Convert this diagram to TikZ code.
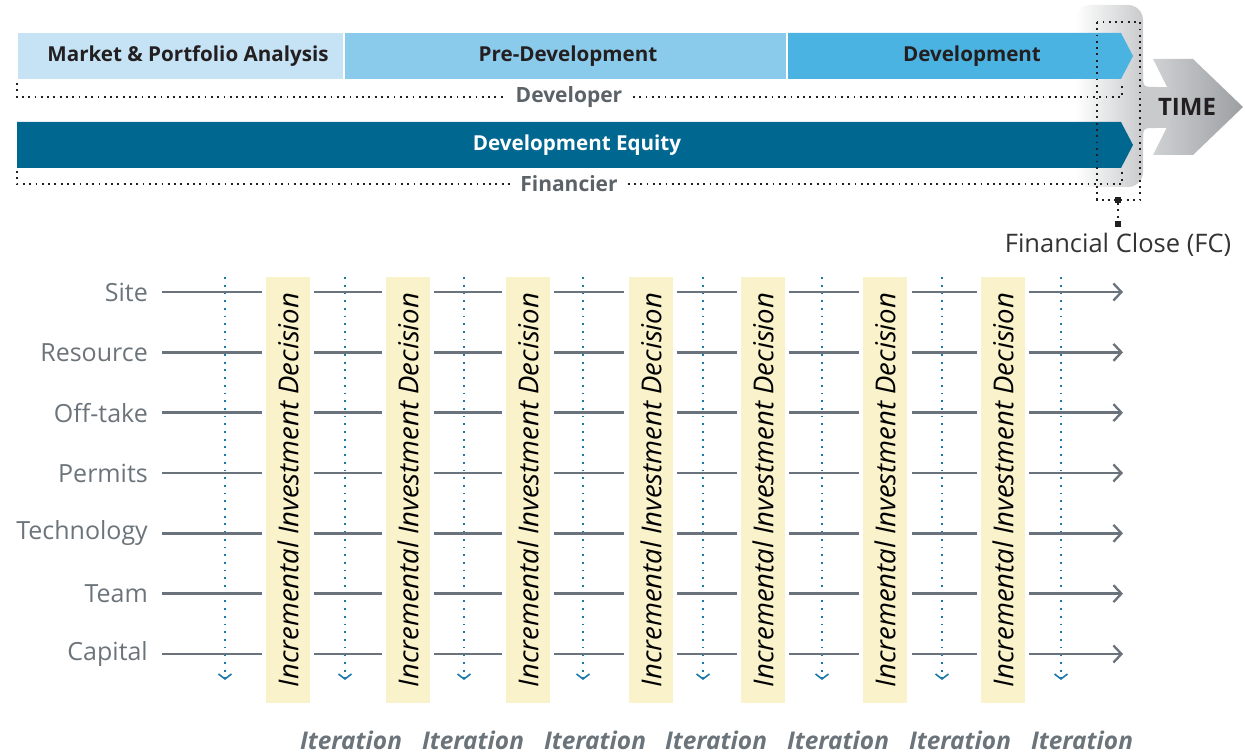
\documentclass[tikz,border=0pt]{standalone}
\usepackage{fontspec}
\setmainfont{Open Sans}
\usetikzlibrary{arrows.meta}
\definecolor{mkt}{HTML}{C5E3F4}
\definecolor{pre}{HTML}{8ACAEA}
\definecolor{dev}{HTML}{4AB3E2}
\definecolor{eq}{HTML}{006791}
\definecolor{txtdark}{HTML}{231F20}
\definecolor{lblgray}{HTML}{6B747A}
\definecolor{rowcol}{HTML}{6A737B}
\definecolor{iterblue}{HTML}{1B7AAA}
\definecolor{bandcol}{HTML}{FAF2CA}
\definecolor{tgray}{HTML}{C8CACC}
\definecolor{chevL}{HTML}{CFD1D3}
\definecolor{chevR}{HTML}{9C9FA2}
\definecolor{fctext}{HTML}{333333}
\tikzset{
  toplbl/.style={font=\fontsize{20.6}{24}\selectfont\bfseries, text=txtdark, inner sep=0},
  rowlbl/.style={font=\fontsize{25}{30}\selectfont, text=lblgray, anchor=east, inner sep=0},
  iterlbl/.style={font=\fontsize{24.4}{28}\selectfont\bfseries\itshape, text=lblgray, inner sep=0},
  bandbox/.style={fill=bandcol, rotate=90, minimum width=426pt, minimum height=44pt, inner sep=0,
     font=\fontsize{27.5}{30}\selectfont\itshape, text=black},
  dotline/.style={draw=txtdark, line width=1.8pt, dash pattern=on 1.8pt off 4.5pt},
  roleline/.style={fill=white, inner xsep=10pt, inner ysep=2pt, font=\fontsize{21}{25}\selectfont\bfseries, text=lblgray!85!black},
  rowline/.style={draw=rowcol, line width=2.5pt},
  iterline/.style={draw=iterblue, line width=1.9pt, dash pattern=on 1.8pt off 5.9pt,
     -{Straight Barb[length=5pt,width=13pt,line width=1.6pt]}},
  sqmark/.style={fill=txtdark, minimum size=6pt, inner sep=0},
}
\begin{document}
\begin{tikzpicture}[x=1pt,y=-1pt]
\useasboundingbox (0,0) rectangle (1245,754);

% TIME background shape
\shade[left color=white, right color=tgray, rounded corners=15pt] (1075,5) rectangle (1143,187);
\fill[tgray] (1140,87) rectangle (1178,128);
\fill[tgray] (1143,74) .. controls (1143,87) .. (1156,87) -- (1143,87) -- cycle;
\fill[tgray] (1143,141) .. controls (1143,128) .. (1156,128) -- (1143,128) -- cycle;
\shade[left color=chevL, right color=chevR] (1153,59) -- (1193,59) -- (1243,107) -- (1193,155) -- (1153,155) -- (1177,107) -- cycle;
\node[font=\fontsize{24}{28}\selectfont\bfseries, text=txtdark, inner sep=0] (time) at (1187,107) {TIME};

% phase bars
\fill[mkt] (18,33) rectangle (343,79);
\fill[pre] (345,33) rectangle (786,79);
\fill[dev] (788,33) -- (1121,33) -- (1133,56) -- (1121,79) -- (788,79) -- cycle;
\node[toplbl] (mkt) at (188,56) {Market \& Portfolio Analysis};
\node[toplbl] (predev) at (568,56) {Pre-Development};
\node[toplbl] (devl) at (972,56) {Development};

\fill[eq] (17,122) -- (1121,122) -- (1133,145) -- (1121,168) -- (17,168) -- cycle;
\node[toplbl, text=white] (equity) at (577,145) {Development Equity};

% developer / financier brackets
\coordinate (d1) at (17,83); \coordinate (d2) at (17,97);
\coordinate (d3) at (1122,97); \coordinate (d4) at (1122,85);
\draw[dotline] (d1) -- (d2) -- (d3) -- (d4);
\node[roleline] (developer) at (569,97) {Developer};
\coordinate (f1) at (17,171); \coordinate (f2) at (17,184);
\coordinate (f3) at (1122,184); \coordinate (f4) at (1122,169);
\draw[dotline] (f1) -- (f2) -- (f3) -- (f4);
\node[roleline] (financier) at (569,184) {Financier};

% financial close
\coordinate (fcA) at (1097,22); \coordinate (fcB) at (1140,200);
\draw[dotline] (fcA) rectangle (fcB);
\node[sqmark] (fc1) at (1118,200) {};
\node[sqmark] (fc2) at (1118,224) {};
\draw[dotline] (fc1) -- (fc2);
\node[font=\fontsize{25.5}{30}\selectfont, text=fctext, inner sep=0] (fclabel) at (1118,245) {Financial Close (FC)};

% decision bands
\foreach \x [count=\i] in {288,408,528,651,763,885,1003} {
  \node[bandbox] (band\i) at (\x,490) {Incremental Investment Decision};
}

% iteration dotted arrows
\foreach \x [count=\i] in {225,345,464,583,703,822,942,1061} {
  \coordinate (it\i a) at (\x,277);
  \coordinate (it\i b) at (\x,680);
  \draw[iterline] (it\i a) -- (it\i b);
}

% rows
\foreach \t [count=\r] in {Site,Resource,Off-take,Permits,Technology,Team,Capital} {
  \pgfmathsetmacro{\yy}{292+(\r-1)*60.33}
  \node[rowlbl] (lab\r) at (148,\yy) {\t};
  \foreach \a/\b [count=\s] in {162/262,314/382,434/502,554/624,677/737,789/859,912/977} {
    \coordinate (r\r s\s a) at (\a,\yy);
    \coordinate (r\r s\s b) at (\b,\yy);
    \draw[rowline] (r\r s\s a) -- (r\r s\s b);
  }
  \coordinate (r\r ea) at (1029,\yy);
  \coordinate (r\r eb) at (1123,\yy);
  \draw[rowline, -{Straight Barb[length=8pt,width=17pt,line width=2.3pt]}] (r\r ea) -- (r\r eb);
}

% iteration labels
\foreach \x [count=\i] in {351,473,595,716,838,960,1082} {
  \node[iterlbl] (iter\i) at (\x,740) {Iteration};
}
\end{tikzpicture}
\end{document}
